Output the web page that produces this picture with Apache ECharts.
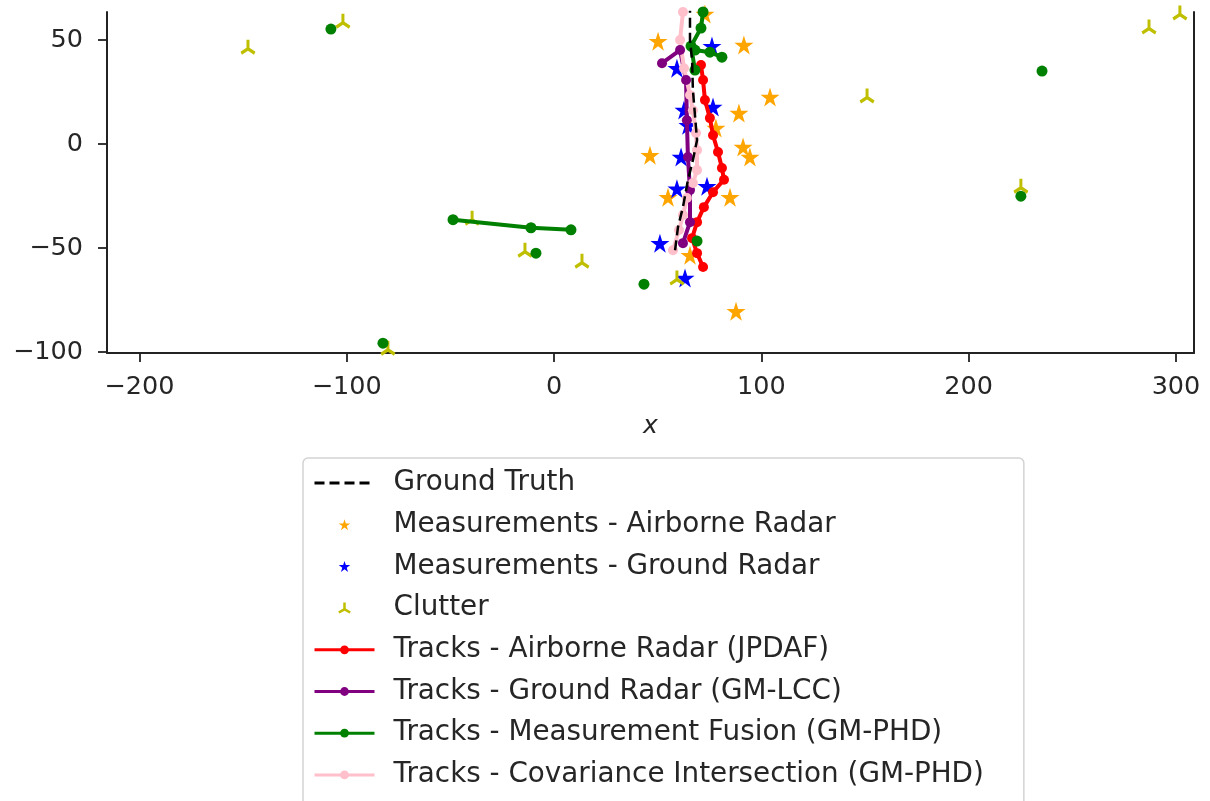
<!DOCTYPE html>
<html><head><meta charset="utf-8">
<script src="https://cdn.jsdelivr.net/npm/echarts@6/dist/echarts.min.js"></script>
<style>html,body{margin:0;padding:0;background:#fff}#c{width:1210px;height:801px}</style>
</head><body><div id="c"></div>
<script>
const xTicks = [-200, -100, 0, 100, 200, 300];
const yTicks = [-100, -50, 0, 50];
const groundTruth = [[58.4,-51.1],[59.8,-40],[62.2,-30.4],[64.6,-17.4],[67,-7.8],[69,1.8],[68,13.8],[67,25.9],[66.6,40.3],[65.6,49.9],[65.6,64.3]];
const measAirborne = [[72.8,62.4],[50.2,49.4],[91.6,47.5],[104.2,22.5],[89.2,14.8],[78.1,7.6],[46.3,-5.4],[91.2,-1.5],[94.5,-6.3],[55,-25.6],[84.9,-25.6],[65.6,-53.5],[87.8,-80.4]];
const measGround = [[76.2,47],[59.3,36.4],[62.7,16.3],[64.6,9],[76.7,17.7],[61.3,-6.3],[59.3,-21.5],[73.8,-20.3],[51.1,-47.7],[63.2,-64.5]];
const clutter = [[-147.6,46.5],[-101.8,59],[-80.1,-98.2],[-39.5,-35.7],[-14,-51.1],[13.5,-56.4],[59.3,-64.5],[151,23],[225.2,-20.3],[287,56.2],[301.9,62.9]];
const tracksAirborne = [[70.9,37.9],[71.9,30.7],[72.8,21.1],[75.2,12.4],[76.7,4.2],[79.1,-3.9],[81,-11.6],[82,-17.2],[76.7,-23.2],[72.3,-30.4],[69,-37.6],[66.6,-45.3],[69,-52.5],[71.9,-59.2]];
const tracksGround = [[52.1,38.8],[60.8,45.1],[63.7,30.7],[64.1,11.4],[64.6,-6.3],[65.6,-22.2],[65.6,-37.6],[62.2,-47.7]];
const tracksFusion = [
  [[71.9,63.4],[70.9,55.7],[66.1,47],[68,35.5]],
  [[68,45.1],[75.2,44.1],[81,41.7]],
  [[-48.7,-36.4],[-11.1,-40.3],[8.2,-41.3]],
  [[-107.6,55.2]],[[-82.5,-95.8]],[[235.4,35]],[[225.2,-25.1]],[[-8.7,-52.5]],[[43.4,-67.4]],[[69,-46.7]]
];
const tracksCI = [[62.2,63.4],[60.8,49.9],[62.7,36.4],[65.6,23.5],[67,16.2],[68.5,5.2],[69,-3],[69,-12.6],[67,-18.8],[64.1,-26],[62.2,-34.2],[60.3,-41.4],[57.4,-51.1]];
const names = ['Ground Truth','Measurements - Airborne Radar','Measurements - Ground Radar','Clutter','Tracks - Airborne Radar (JPDAF)','Tracks - Ground Radar (GM-LCC)','Tracks - Measurement Fusion (GM-PHD)','Tracks - Covariance Intersection (GM-PHD)'];

const STAR = 'path://M0,-10L2.245,-3.09L9.511,-3.09L3.633,1.18L5.878,8.09L0,3.82L-5.878,8.09L-3.633,1.18L-9.511,-3.09L-2.245,-3.09Z';
const TRI = 'path://M-1.9,-10L1.9,-10L1.9,-1.1L9.61,3.35L7.71,6.65L0,2.2L-7.71,6.65L-9.61,3.35L-1.9,-1.1Z';
const FONT = 'DejaVu Sans';
const TXT = '#262626';
const minus = v => String(v).replace('-', '\u2212');

const chart = echarts.init(document.getElementById('c'));
const series = [
  {name: names[1], type:'scatter', data: measAirborne, symbol: STAR, symbolSize: 19, itemStyle:{color:'#FFA500', opacity:1}, z:2},
  {name: names[2], type:'scatter', data: measGround, symbol: STAR, symbolSize: 19, itemStyle:{color:'#0000FF', opacity:1}, z:2},
  {name: names[3], type:'scatter', data: clutter, symbol: TRI, symbolSize: 15, itemStyle:{color:'#BFBF00', opacity:1}, z:2},
  {name: names[4], type:'line', data: tracksAirborne, symbol:'circle', symbolSize: 10, showSymbol:true, lineStyle:{color:'#FF0000', width:4}, itemStyle:{color:'#FF0000'}, z:3},
  {name: names[5], type:'line', data: tracksGround, symbol:'circle', symbolSize: 10, showSymbol:true, lineStyle:{color:'#800080', width:4}, itemStyle:{color:'#800080'}, z:3},
];
tracksFusion.forEach(t => series.push({name: names[6], type:'line', data: t, symbol:'circle', symbolSize: 11, showSymbol:true, lineStyle:{color:'#008000', width:4}, itemStyle:{color:'#008000'}, z:3}));
series.push({name: names[7], type:'line', data: tracksCI, symbol:'circle', symbolSize: 10, showSymbol:true, lineStyle:{color:'#FFC0CB', width:4}, itemStyle:{color:'#FFC0CB'}, z:3});
series.push({name: names[0], type:'line', data: groundTruth, symbol:'circle', symbolSize:0, showSymbol:false, lineStyle:{color:'#000', width:2.5, type:[10,5]}, itemStyle:{color:'#000'}, z:4});

chart.setOption({
  animation:false,
  textStyle:{fontFamily:FONT},
  grid:{left:107, right:16, top:12, bottom:448, containLabel:false},
  xAxis:{type:'value', min:-215.6, max:308.7, name:'x', nameLocation:'middle', nameGap:61,
    nameTextStyle:{fontSize:25, fontStyle:'italic', color:TXT, fontFamily:FONT},
    axisLine:{show:true, onZero:false, lineStyle:{color:'#222', width:2}},
    axisTick:{show:true, length:9, customValues:xTicks, lineStyle:{color:'#222', width:1.8}},
    axisLabel:{customValues:xTicks, fontSize:25.5, color:TXT, margin:21, fontFamily:FONT, formatter: minus},
    splitLine:{show:false}},
  yAxis:[{type:'value', min:-100.5, max:63.4,
    axisLine:{show:true, onZero:false, lineStyle:{color:'#222', width:2}},
    axisTick:{show:true, length:9, customValues:yTicks, lineStyle:{color:'#222', width:1.8}},
    axisLabel:{customValues:yTicks, fontSize:25.5, color:TXT, margin:24, fontFamily:FONT, formatter: minus},
    splitLine:{show:false}},
    {type:'value', position:'right', min:-100.5, max:63.4,
    axisLine:{show:true, onZero:false, lineStyle:{color:'#222', width:2}},
    axisTick:{show:false}, axisLabel:{show:false}, splitLine:{show:false}}],
  legend:{orient:'vertical', left:303, top:458, height:420, padding:[10,40,40,10],
    itemWidth:60, itemHeight:11, itemGap:11.7,
    backgroundColor:'#fff', borderColor:'#d3d3d3', borderWidth:1.5, borderRadius:5,
    lineStyle:{width:3},
    textStyle:{fontSize:27.8, color:TXT, fontFamily:FONT, lineHeight:30, padding:[0,0,0,14]},
    data: [
      {name:names[0], itemStyle:{opacity:0}},
      names[1], names[2], names[3], names[4], names[5], names[6], names[7]
    ]},
  series: series
});
</script></body></html>
